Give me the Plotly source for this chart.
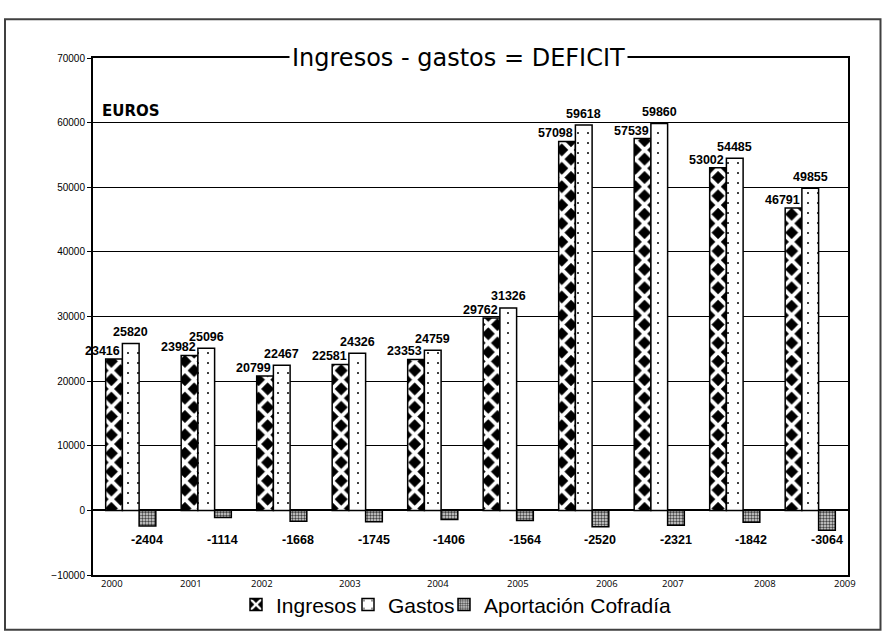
import plotly.graph_objects as go

# ---------------- data ----------------
YEARS = ["2000", "2001", "2002", "2003", "2004", "2005", "2006", "2007", "2008", "2009"]
INGRESOS = [23416, 23982, 20799, 22581, 23353, 29762, 57098, 57539, 53002, 46791]
GASTOS = [25820, 25096, 22467, 24326, 24759, 31326, 59618, 59860, 54485, 49855]
APORTACION = [-2404, -1114, -1668, -1745, -1406, -1564, -2520, -2321, -1842, -3064]
SERIES_NAMES = ["Ingresos", "Gastos", "Aportación Cofradía"]
TITLE = "Ingresos - gastos = DEFICIT"
UNIT_LABEL = "EUROS"

# ---------------- layout constants ----------------
W, H = 882, 637
ML, MR, MT, MB = 93, 34, 58, 60
PW, PH = W - ML - MR, H - MT - MB
BARGAP = 0.336
BAR_PX = PW / len(YEARS) * (1 - BARGAP) / 3
POS = list(range(len(YEARS)))  # category slots on the x axis

# pixel x centres of the (offset) year labels under the axis
YEAR_LABEL_PX = [111.7, 191, 261.7, 350, 438, 518, 606.7, 672.7, 765, 845]


def px_x(p):
    return (p - ML) / PW


def px_y(p):
    return (H - MB - p) / PH


LABEL_FONT = dict(family="Arial, Liberation Sans", size=12.5, color="black", weight="bold")

fig = go.Figure()
fig.add_trace(go.Bar(
    x=POS, y=INGRESOS, name=SERIES_NAMES[0], legend="legend",
    customdata=YEARS,
    marker=dict(color="black", line=dict(color="black", width=1.5),
                pattern=dict(shape="x", size=13, solidity=0.5, fgcolor="white",
                             bgcolor="black", fillmode="replace")),
))
fig.add_trace(go.Bar(
    x=POS, y=GASTOS, name=SERIES_NAMES[1], legend="legend2",
    customdata=YEARS,
    marker=dict(color="white", line=dict(color="black", width=1.5),
                pattern=dict(shape=".", size=10, solidity=0.03, fgcolor="black",
                             bgcolor="white", fillmode="replace")),
))
fig.add_trace(go.Bar(
    x=POS, y=APORTACION, name=SERIES_NAMES[2], legend="legend3",
    customdata=YEARS,
    marker=dict(color="#888888", line=dict(color="black", width=1.5),
                pattern=dict(shape=".", size=3, solidity=0.5, fgcolor="#444444",
                             bgcolor="#dddddd", fillmode="replace")),
))

ann = []
for i, vi, vg, va in zip(POS, INGRESOS, GASTOS, APORTACION):
    ann.append(dict(x=i, y=vi, xref="x", yref="y", text=str(vi), showarrow=False,
                    xshift=-BAR_PX - 11.5, yshift=8, yanchor="middle", font=LABEL_FONT))
    ann.append(dict(x=i, y=vg, xref="x", yref="y", text=str(vg), showarrow=False,
                    xshift=0, yshift=11.5, yanchor="middle", font=LABEL_FONT))
    ann.append(dict(x=i, y=0, xref="x", yref="y", text=str(va), showarrow=False,
                    xshift=BAR_PX, yshift=-30, yanchor="middle", font=LABEL_FONT))

for yr, p in zip(YEARS, YEAR_LABEL_PX):
    ann.append(dict(x=px_x(p), y=0, xref="paper", yref="paper", text=yr, showarrow=False,
                    xanchor="center", yanchor="middle", yshift=-8,
                    font=dict(family="Open Sans", size=9.5, color="black")))

ann.append(dict(x=px_x(289), y=1, xref="paper", yref="paper", text=TITLE, showarrow=False,
                xanchor="left", yanchor="middle", bgcolor="white", borderpad=2,
                font=dict(family="DejaVu Sans", size=24, color="black")))
ann.append(dict(x=px_x(100), y=px_y(111), xref="paper", yref="paper", text=UNIT_LABEL,
                showarrow=False, xanchor="left", yanchor="middle",
                font=dict(family="DejaVu Sans", size=15, color="black", weight="bold")))

legend_common = dict(orientation="h", yanchor="middle", xanchor="left", y=px_y(607),
                     bgcolor="rgba(0,0,0,0)", borderwidth=0,
                     font=dict(family="Arial, Liberation Sans", size=21, color="black"))

fig.update_layout(
    width=W, height=H,
    margin=dict(l=ML, r=MR, t=MT, b=MB, pad=0),
    paper_bgcolor="white", plot_bgcolor="white",
    barmode="group", bargap=BARGAP, bargroupgap=0,
    showlegend=True,
    legend=dict(x=px_x(276 - 40), **legend_common),
    legend2=dict(x=px_x(388 - 40), **legend_common),
    legend3=dict(x=px_x(484 - 40), **legend_common),
    xaxis=dict(type="linear", showticklabels=False, ticks="", showgrid=False,
               showline=True, mirror=True, linecolor="black", linewidth=2,
               zeroline=False, range=[-0.5, len(YEARS) - 0.5]),
    yaxis=dict(range=[-10000, 70000], dtick=10000, tickformat="d",
               showgrid=True, gridcolor="black", gridwidth=1,
               zeroline=True, zerolinecolor="black", zerolinewidth=2,
               showline=True, mirror=True, linecolor="black", linewidth=2,
               ticks="outside", ticklen=4, tickcolor="black",
               tickfont=dict(family="Arial, Liberation Sans", size=10, color="black")),
    annotations=ann,
    shapes=[dict(type="rect", xref="paper", yref="paper",
                 x0=px_x(5), x1=px_x(880.5), y0=px_y(632), y1=px_y(19),
                 line=dict(color="#404040", width=2), fillcolor="rgba(0,0,0,0)", layer="below")],
)

fig.write_html("out.html", config={"displayModeBar": False},
               post_script="document.body.style.margin='0';document.body.style.overflow='hidden';")
